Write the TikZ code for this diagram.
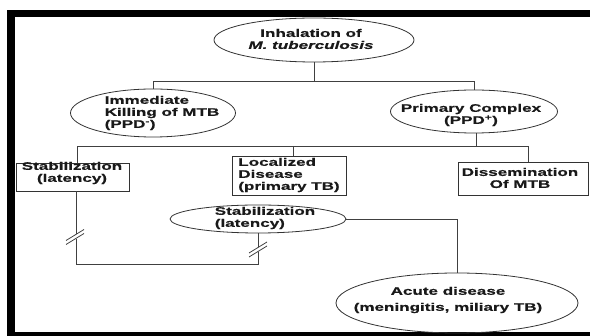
\documentclass[tikz,border=0pt]{standalone}
\usepackage{fontspec}
\setmainfont{Liberation Sans}[FakeStretch=1.55, BoldFeatures={FakeBold=0.6}, BoldItalicFeatures={FakeBold=0.6}]
\usetikzlibrary{shapes.geometric}
\begin{document}
\begin{tikzpicture}[x=1pt,y=-1pt,
  lbl/.style={font=\fontsize{11}{12}\selectfont\bfseries, inner sep=0pt, text=black!90},
  oval/.style={draw=black!80, line width=0.8pt, ellipse, inner sep=0pt},
  sbox/.style={draw=black!80, line width=0.8pt, rectangle, inner sep=0pt},
  conn/.style={draw=black!75, line width=0.8pt},
  bar/.style={fill=black, draw=none}]
\useasboundingbox (0,0) rectangle (590,336);
% frame
\fill[black] (8,10) rectangle (590,17);
\fill[black] (7,10) rectangle (15,336);
\fill[black] (7,332) rectangle (590,336);

% nodes
\node[oval, minimum width=200pt, minimum height=44pt] (inh) at (314,40) {};
\node[lbl, align=center] (inht) at (311,39) {Inhalation of\\\itshape M. tuberculosis};

\node[oval, minimum width=165pt, minimum height=48pt] (kill) at (153,113) {};
\node[lbl, align=left] (killt) at (162,113) {Immediate\\Killing of MTB\\(PPD\textsuperscript{-})};

\node[oval, minimum width=167pt, minimum height=43pt] (prim) at (474,111.5) {};
\node[lbl, align=center] (primt) at (471,115) {Primary Complex\\(PPD\textsuperscript{+})};

\node[sbox, minimum width=113pt, minimum height=28pt] (stab) at (72.5,177) {};
\node[lbl, align=center] (stabt) at (72,173) {Stabilization\\(latency)};

\node[sbox, minimum width=114pt, minimum height=39pt] (loc) at (289,175.5) {};
\node[lbl, align=left] (loct) at (289,175) {Localized\\Disease\\(primary TB)};

\node[sbox, minimum width=130pt, minimum height=33pt] (diss) at (523,178.5) {};
\node[lbl, align=center] (disst) at (520,178) {Dissemination\\Of MTB};

\node[oval, minimum width=176pt, minimum height=28pt] (stabe) at (258,219) {};
\node[lbl, align=left] (stabet) at (265,218) {Stabilization\\(latency)};

\node[oval, minimum width=242pt, minimum height=60pt] (acute) at (457,303) {};
\node[lbl, align=center] (acutet) at (448,300) {Acute disease\\[4pt](meningitis, miliary TB)};

% connectors: level 1
\coordinate (j1) at (314,81);
\draw[conn] (inh.south) -- (j1);
\draw[conn] (kill.north) -- (kill.north |- j1) -- (prim.north |- j1) -- (prim.north);

% connectors: level 2
\coordinate (j2) at (476,146);
\coordinate (d1) at (77,146);
\coordinate (d2) at (293,146);
\coordinate (d3) at (528,146);
\draw[conn] (prim.south -| j2) -- (j2);
\draw[conn] (d1 |- stab.north) -- (d1) -- (d3) -- (d3 |- diss.north);
\draw[conn] (d2) -- (d2 |- loc.north);

% latency loop
\coordinate (l1) at (76,264);
\coordinate (l2) at (258,264);
\draw[conn] (l1 |- stab.south) -- (l1) -- (l2) -- (stabe.south);
% break marks
\fill[white] (72,234) rectangle (80,239);
\draw[conn] (66,240.5) -- (84,229.5);
\draw[conn] (66,244.5) -- (84,233.5);
\fill[white] (254,247) rectangle (262,252);
\draw[conn] (249,253) -- (267,242);
\draw[conn] (249,257) -- (267,246);

% stabilization to acute
\coordinate (a1) at (457,219);
\draw[conn] (stabe.east) -- (a1) -- (acute.north);
\end{tikzpicture}
\end{document}
